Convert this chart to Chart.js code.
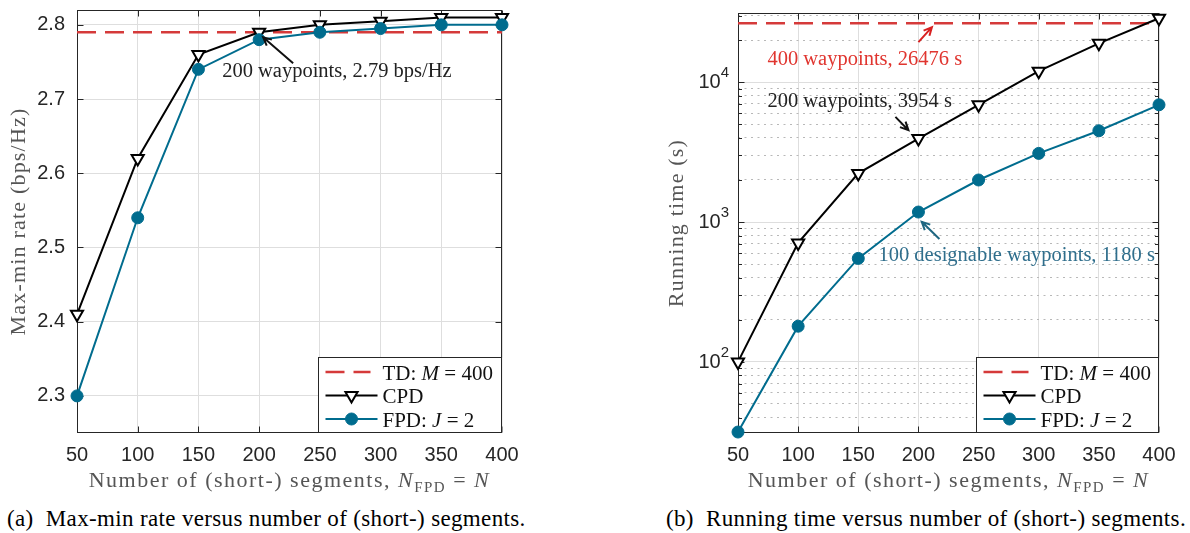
<!DOCTYPE html>
<html lang="en">
<head>
<meta charset="UTF-8">
<meta name="viewport" content="width=device-width, initial-scale=1.0">
<title>Max-min rate and running time versus segments</title>
<script src="https://cdn.jsdelivr.net/npm/chart.js"></script>
<style>
  body { margin: 0; background: #fff; }
  #figura { position: relative; width: 1190px; height: 533px; overflow: hidden; }
  canvas { position: absolute; top: 0; }
  #taxa { left: 0; }
  #tempo { left: 590px; }
  .subtitulo { position: absolute; top: 506px; font: 23px "Liberation Serif", "Times New Roman", serif; letter-spacing: 0.35px; color: #000; white-space: nowrap; }
</style>
</head>
<body>
<div id="figura">
  <canvas id="taxa" width="590" height="500"></canvas>
  <canvas id="tempo" width="600" height="500"></canvas>
  <div class="subtitulo" style="left:7px">(a)&nbsp; Max-min rate versus number of (short-) segments.</div>
  <div class="subtitulo" style="left:666px">(b)&nbsp; Running time versus number of (short-) segments.</div>
</div>

<script>
const segments = [50, 100, 150, 200, 250, 300, 350, 400];

// (a) max-min rate, bps/Hz
const rateTD = 2.79;
const rateCPD = [2.41, 2.62, 2.76, 2.79, 2.80, 2.805, 2.81, 2.81];
const rateFPD = [2.30, 2.54, 2.74, 2.78, 2.79, 2.795, 2.80, 2.80];
const rateTicks = [2.3, 2.4, 2.5, 2.6, 2.7, 2.8];

// (b) running time, s
const timeTD = 26476;
const timeCPD = [100, 710, 2230, 3954, 6900, 12000, 19000, 28700];
const timeFPD = [31.5, 180, 550, 1180, 2000, 3100, 4500, 6900];
const timeTicks = [100, 1000, 10000];
const timeMinorTicks = [40, 50, 60, 70, 80, 90, 200, 300, 400, 500, 600, 700, 800, 900,
  2000, 3000, 4000, 5000, 6000, 7000, 8000, 9000, 20000, 30000];

const RED = '#d53a3a';
const TEAL = '#006c8e';
const AXIS = '#262626';
const GRID = '#dedede';
const SERIF = '"Liberation Serif", "Times New Roman", serif';
const SANS = '"Liberation Sans", Arial, sans-serif';

const legendRows = [
  [{ t: 'TD: ' }, { t: 'M', it: true }, { t: ' = 400' }],
  [{ t: 'CPD' }],
  [{ t: 'FPD: ' }, { t: 'J', it: true }, { t: ' = 2' }]
];
const xTitle = [{ t: 'Number of (short-) segments, ' }, { t: 'N', it: true }, { t: 'FPD', sub: true },
  { t: ' = ' }, { t: 'N', it: true }];

function xy(values) {
  return segments.map((x, i) => ({ x: x, y: values[i] }));
}

function seriesSets(td, cpd, fpd) {
  return [
    { label: 'TD', data: xy(segments.map(() => td)), borderColor: RED, borderWidth: 2.5,
      borderDash: [19, 9], pointRadius: 0, order: 2, clip: false },
    { label: 'CPD', data: xy(cpd), borderColor: '#000', borderWidth: 2, pointStyle: 'triangle',
      pointRotation: 180, pointRadius: 7, pointBackgroundColor: '#fff', pointBorderColor: '#000',
      pointBorderWidth: 2, order: 1, clip: false },
    { label: 'FPD', data: xy(fpd), borderColor: TEAL, borderWidth: 2, pointStyle: 'circle',
      pointRadius: 6, pointBackgroundColor: TEAL, pointBorderColor: TEAL, pointBorderWidth: 1,
      order: 0, clip: false }
  ];
}

function xScale() {
  return {
    type: 'linear', min: 50, max: 400,
    afterFit: s => { s.height = 67; },
    grid: { color: GRID, drawTicks: false },
    border: { display: false },
    ticks: { stepSize: 50, font: { family: SANS, size: 20 }, color: AXIS, padding: 10, autoSkip: false, maxRotation: 0 }
  };
}

// text with italic / subscript pieces
function fontFor(p, size) {
  const s = p.sub ? Math.round(size * 0.7) : size;
  return (p.it ? 'italic ' : '') + s + 'px ' + SERIF;
}
function richWidth(ctx, parts, size) {
  let w = 0;
  for (const p of parts) { ctx.font = fontFor(p, size); w += ctx.measureText(p.t).width; }
  return w;
}
function drawRich(ctx, parts, x, y, size) {
  for (const p of parts) {
    ctx.font = fontFor(p, size);
    ctx.fillText(p.t, x, p.sub ? y + size * 0.22 : y);
    x += ctx.measureText(p.t).width;
  }
}

function drawBox(chart) {
  const { ctx, chartArea: a, scales } = chart;
  const left = Math.round(a.left) + 0.5, right = Math.round(a.right) - 0.5;
  const top = Math.round(a.top) + 0.5, bottom = Math.round(a.bottom) - 0.5;
  ctx.save();
  ctx.strokeStyle = AXIS;
  ctx.lineWidth = 1;
  ctx.beginPath();
  for (const t of scales.x.ticks) {
    const px = Math.round(scales.x.getPixelForValue(t.value)) + 0.5;
    ctx.moveTo(px, bottom); ctx.lineTo(px, bottom - 6);
    ctx.moveTo(px, top); ctx.lineTo(px, top + 6);
  }
  const yTicks = (scale, len) => {
    for (const t of scale.ticks) {
      const py = Math.round(scale.getPixelForValue(t.value)) + 0.5;
      ctx.moveTo(left, py); ctx.lineTo(left + len, py);
      ctx.moveTo(right, py); ctx.lineTo(right - len, py);
    }
  };
  yTicks(scales.y, 6);
  if (scales.yMinor) yTicks(scales.yMinor, 3.5);
  ctx.stroke();
  ctx.strokeRect(left, top, right - left, bottom - top);
  ctx.restore();
}

function drawTitles(chart, opts) {
  const { ctx, chartArea: a } = chart;
  const size = 22;
  ctx.save();
  ctx.fillStyle = '#555';
  ctx.letterSpacing = '1.5px';
  const w = richWidth(ctx, xTitle, size);
  drawRich(ctx, xTitle, (a.left + a.right) / 2 - w / 2, 487, size);
  ctx.letterSpacing = '1.2px';
  ctx.translate(opts.yTitleX, (a.top + a.bottom) / 2);
  ctx.rotate(-Math.PI / 2);
  ctx.font = size + 'px ' + SERIF;
  ctx.textAlign = 'center';
  ctx.textBaseline = 'middle';
  ctx.fillText(opts.yTitle, 0, 0);
  ctx.restore();
}

// 10^n labels for the log axis
function drawLogLabels(chart) {
  const { ctx, scales, chartArea: a } = chart;
  const s = scales.y;
  ctx.save();
  ctx.fillStyle = AXIS;
  for (const t of s.ticks) {
    const py = s.getPixelForValue(t.value);
    const exp = String(Math.round(Math.log10(t.value)));
    ctx.font = '20px ' + SANS;
    const wb = ctx.measureText('10').width;
    ctx.font = '15px ' + SANS;
    const we = ctx.measureText(exp).width;
    const x0 = a.left - 9 - wb - we;
    ctx.font = '20px ' + SANS;
    ctx.fillText('10', x0, py + 6);
    ctx.font = '15px ' + SANS;
    ctx.fillText(exp, x0 + wb, py - 5);
  }
  ctx.restore();
}

function drawArrow(ctx, x1, y1, x2, y2, color) {
  const ang = Math.atan2(y2 - y1, x2 - x1), h = 9;
  ctx.strokeStyle = color;
  ctx.lineWidth = 2;
  ctx.beginPath();
  ctx.moveTo(x1, y1); ctx.lineTo(x2, y2);
  ctx.moveTo(x2 - h * Math.cos(ang - 0.45), y2 - h * Math.sin(ang - 0.45));
  ctx.lineTo(x2, y2);
  ctx.lineTo(x2 - h * Math.cos(ang + 0.45), y2 - h * Math.sin(ang + 0.45));
  ctx.stroke();
}

function drawNotes(chart, notes) {
  const { ctx, scales } = chart;
  ctx.save();
  ctx.font = '20.5px ' + SERIF;
  for (const n of notes) {
    const px = scales.x.getPixelForValue(n.x), py = scales.y.getPixelForValue(n.y);
    ctx.fillStyle = n.color;
    ctx.fillText(n.text, px + n.at[0], py + n.at[1]);
    drawArrow(ctx, px + n.from[0], py + n.from[1], px + n.to[0], py + n.to[1], n.arrow);
  }
  ctx.restore();
}

function drawMarker(ctx, ds, x, y) {
  const r = ds.pointRadius;
  if (!r) return;
  ctx.beginPath();
  if (ds.pointStyle === 'triangle') {
    let rad = (ds.pointRotation || 0) * Math.PI / 180;
    ctx.moveTo(x + Math.sin(rad) * r, y - Math.cos(rad) * r);
    rad += 2 * Math.PI / 3;
    ctx.lineTo(x + Math.sin(rad) * r, y - Math.cos(rad) * r);
    rad += 2 * Math.PI / 3;
    ctx.lineTo(x + Math.sin(rad) * r, y - Math.cos(rad) * r);
    ctx.closePath();
  } else {
    ctx.arc(x, y, r, 0, 2 * Math.PI);
  }
  ctx.fillStyle = ds.pointBackgroundColor;
  ctx.fill();
  ctx.lineWidth = ds.pointBorderWidth;
  ctx.strokeStyle = ds.pointBorderColor;
  ctx.stroke();
}

function drawLegend(chart, opts) {
  const { ctx, chartArea: a } = chart;
  const w = opts.legendWidth, h = 76;
  const bx = Math.round(a.right - w) + 0.5, by = Math.round(a.bottom - h) + 0.5;
  const rows = [14.5, 38, 61.5];
  ctx.save();
  ctx.fillStyle = '#fff';
  ctx.fillRect(bx, by, w, h);
  ctx.strokeStyle = AXIS;
  ctx.lineWidth = 1;
  ctx.strokeRect(bx, by, w - 1, h - 1);
  chart.data.datasets.forEach((ds, i) => {
    const y = by + rows[i];
    ctx.strokeStyle = ds.borderColor;
    ctx.lineWidth = ds.borderWidth;
    ctx.setLineDash(ds.borderDash || []);
    ctx.beginPath();
    ctx.moveTo(bx + 7, y);
    ctx.lineTo(bx + (ds.borderDash ? 52 : 59), y);
    ctx.stroke();
    ctx.setLineDash([]);
    drawMarker(ctx, ds, bx + 33, y);
    ctx.fillStyle = '#111';
    drawRich(ctx, legendRows[i], bx + 64, y + 7.5, 21);
  });
  ctx.restore();
}

function matlabAxes(opts) {
  return {
    id: 'matlabAxes',
    beforeDatasetsDraw(chart) { drawBox(chart); },
    afterDraw(chart) {
      drawTitles(chart, opts);
      if (opts.logLabels) drawLogLabels(chart);
      drawNotes(chart, opts.notes);
      drawLegend(chart, opts);
    }
  };
}

// fixed axis width, no extra room for half labels
function fixWidth(w) {
  return s => { s.width = w; s.paddingTop = 0; s.paddingBottom = 0; };
}

const common = {
  responsive: false,
  animation: false,
  events: [],
  devicePixelRatio: 1,
  plugins: { legend: { display: false }, tooltip: { enabled: false } }
};

// Max-min rate
new Chart(document.getElementById('taxa'), {
  type: 'line',
  data: { datasets: seriesSets(rateTD, rateCPD, rateFPD) },
  options: Object.assign({}, common, {
    layout: { padding: { left: 0, top: 10, right: 88, bottom: 0 } },
    scales: {
      x: xScale(),
      y: {
        type: 'linear', min: 2.25, max: 2.82,
        afterBuildTicks: s => { s.ticks = rateTicks.map(v => ({ value: v })); },
        afterFit: fixWidth(77),
        grid: { color: GRID, drawTicks: false },
        border: { display: false },
        ticks: { font: { family: SANS, size: 20 }, color: AXIS, padding: 12, autoSkip: false, callback: v => v.toFixed(1) }
      }
    }
  }),
  plugins: [matlabAxes({
    yTitle: 'Max-min rate (bps/Hz)', yTitleX: 19.5, legendWidth: 184,
    notes: [
      { x: 200, y: rateCPD[3], text: '200 waypoints, ' + rateCPD[3] + ' bps/Hz', color: '#222', arrow: '#111',
        at: [-37, 45], from: [34, 31], to: [4, 5] }
    ]
  })]
});

// Running time
new Chart(document.getElementById('tempo'), {
  type: 'line',
  data: { datasets: seriesSets(timeTD, timeCPD, timeFPD) },
  options: Object.assign({}, common, {
    layout: { padding: { left: 71, top: 13, right: 31, bottom: 0 } },
    scales: {
      x: xScale(),
      y: {
        type: 'logarithmic', min: 31, max: 31300,
        afterBuildTicks: s => { s.ticks = timeTicks.map(v => ({ value: v, major: true })); },
        afterFit: fixWidth(77),
        grid: { color: GRID, drawTicks: false },
        border: { display: false },
        ticks: { display: false }
      },
      yMinor: {
        type: 'logarithmic', position: 'left', min: 31, max: 31300,
        afterBuildTicks: s => { s.ticks = timeMinorTicks.map(v => ({ value: v })); },
        afterFit: fixWidth(0),
        grid: { color: '#b8b8b8', drawTicks: false },
        border: { display: false, dash: [2, 4.5] },
        ticks: { display: false }
      }
    }
  }),
  plugins: [matlabAxes({
    yTitle: 'Running time (s)', yTitleX: 87, legendWidth: 183, logLabels: true,
    notes: [
      { x: 200, y: timeTD, text: '400 waypoints, ' + timeTD + ' s', color: '#e0352f', arrow: '#d82020',
        at: [-151, 42], from: [0, 19], to: [13.5, 4] },
      { x: 200, y: timeCPD[3], text: '200 waypoints, ' + timeCPD[3] + ' s', color: '#222', arrow: '#111',
        at: [-151, -32], from: [-23, -21.7], to: [-10, -8.4] },
      { x: 200, y: timeFPD[3], text: '100 designable waypoints, ' + timeFPD[3] + ' s', color: '#2f6e8c', arrow: '#1d6681',
        at: [-40, 49], from: [21, 27], to: [3.3, 9.7] }
    ]
  })]
});
</script>
</body>
</html>
